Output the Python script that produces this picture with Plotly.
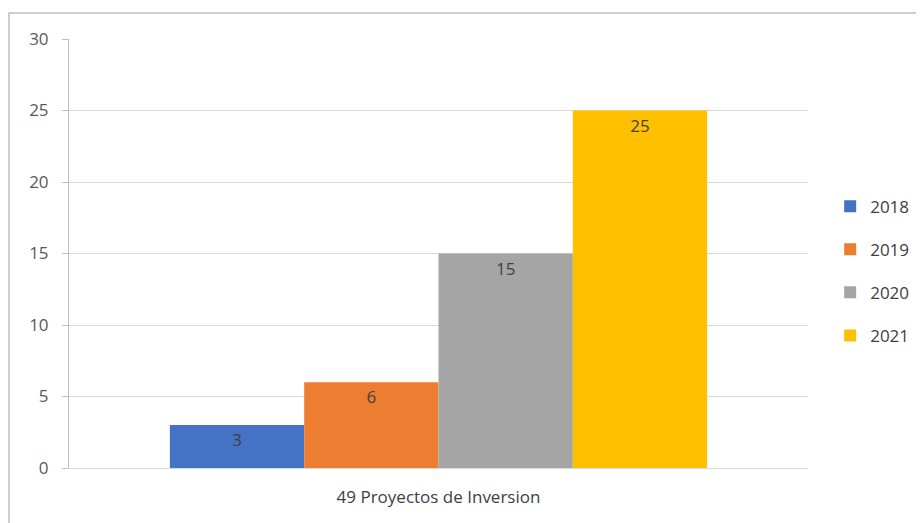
import plotly.graph_objects as go

categories = ["49 Proyectos de Inversion"]
years = ["2018", "2019", "2020", "2021"]
values = [3, 6, 15, 25]
colors = ["#4472C4", "#ED7D31", "#A5A5A5", "#FFC000"]
y_ticks = [0, 5, 10, 15, 20, 25, 30]

fig = go.Figure()
for yr, v, c in zip(years, values, colors):
    fig.add_trace(go.Bar(
        x=categories, y=[v], name=yr, marker=dict(color=c, line=dict(width=0)),
        text=[str(v)], textposition="inside", insidetextanchor="end",
        textfont=dict(color="#404040", size=17, family="Open Sans"),
        legendgroup=yr,
    ))

fig.update_layout(
    width=924, height=523,
    margin=dict(l=61, r=124, t=31, b=63),
    paper_bgcolor="white", plot_bgcolor="white",
    barmode="group", bargap=0.273, bargroupgap=0,
    font=dict(family="Open Sans", size=17, color="#595959"),
    showlegend=True,
    legend=dict(x=1.03, y=0.459, yanchor="middle", xanchor="left",
                font=dict(size=17, color="#404040"), tracegroupgap=18,
                itemwidth=30),
    yaxis=dict(range=[0, 30], tickvals=y_ticks, showgrid=True, gridcolor="#D9D9D9",
               gridwidth=1, showline=True, linecolor="#BFBFBF", ticks="outside",
               ticklen=6, tickcolor="#BFBFBF", zeroline=False, fixedrange=True,
               ticklabelstandoff=10,
               tickfont=dict(size=17, color="#595959")),
    xaxis=dict(showline=True, linecolor="#D9D9D9", ticks="", zeroline=False,
               ticklabelstandoff=14,
               tickfont=dict(size=17, color="#404040")),
    shapes=[dict(type="rect", xref="paper", yref="paper",
                 x0=-60/739, x1=1.2, y0=-0.3, y1=1 + 26/429,
                 line=dict(color="#BFBFBF", width=1.5), fillcolor="rgba(0,0,0,0)")],
)
fig.write_html("out.html")
